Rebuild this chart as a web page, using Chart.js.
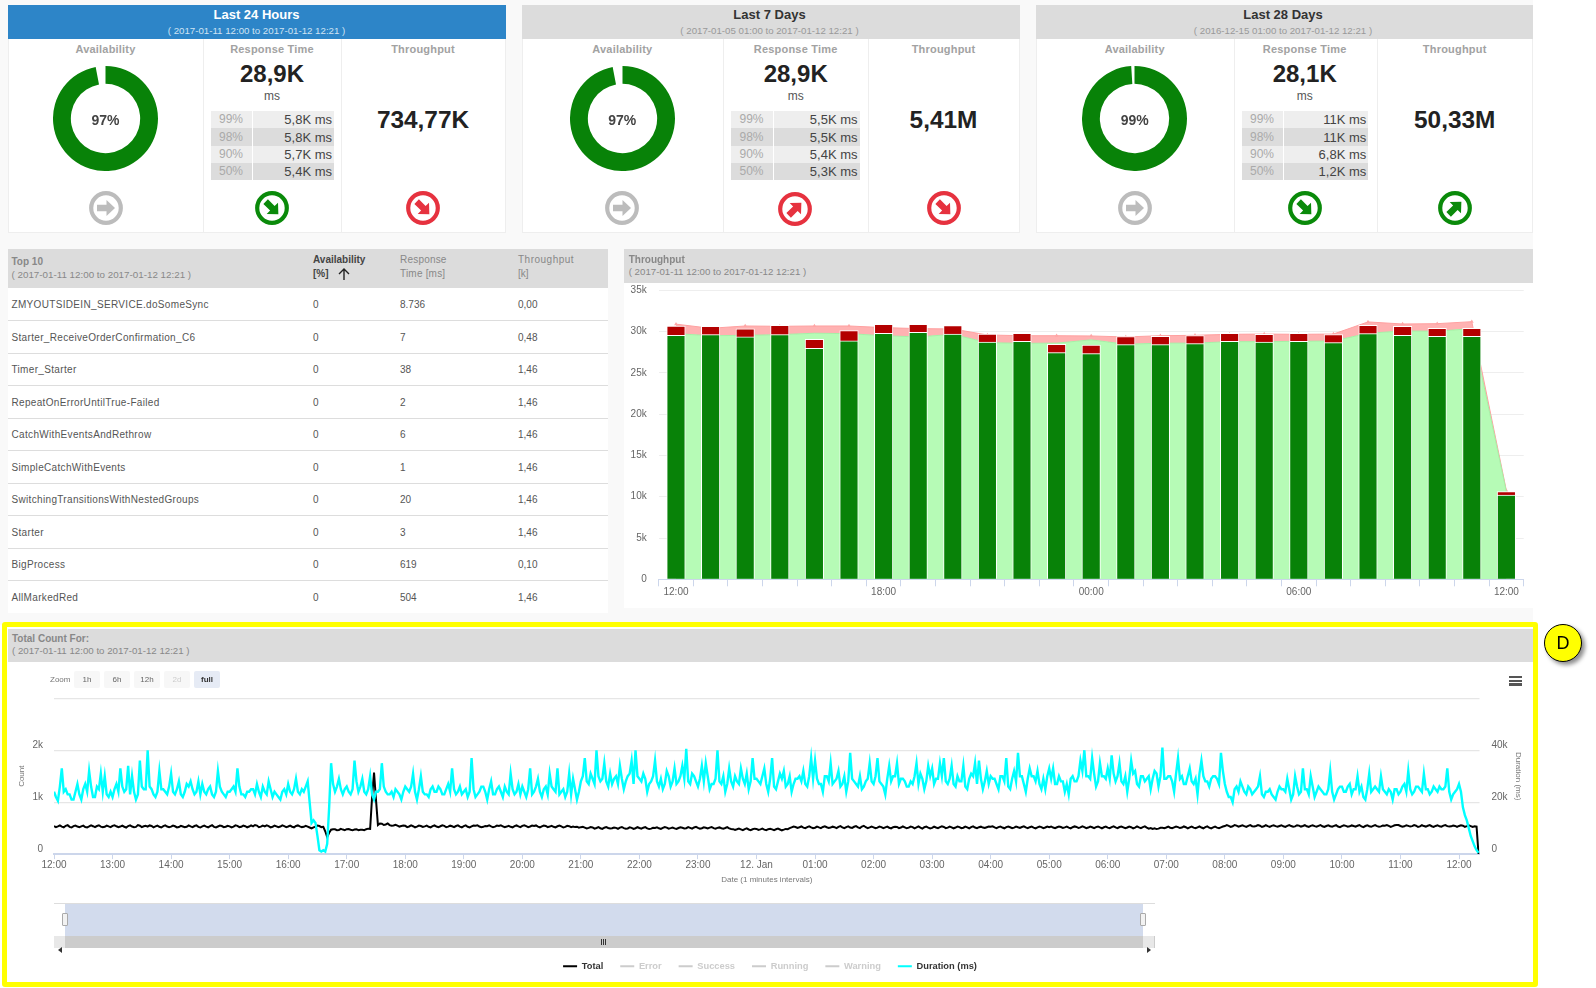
<!DOCTYPE html>
<html><head><meta charset="utf-8">
<script src="https://cdn.jsdelivr.net/npm/chart.js@4"></script>
<style>
html,body{margin:0;padding:0;background:#fff;overflow:hidden}
body{width:1596px;height:988px;position:relative;font-family:"Liberation Sans",Arial,sans-serif}
.b,.t,canvas{position:absolute}
.t{white-space:nowrap;line-height:1}
.ctr{transform:translate(-50%,-50%)}
.lft{transform:translate(0,-50%)}
.rgt{transform:translate(-100%,-50%)}
</style></head><body>
<script>
// ---------- data ----------
const periodTitles=['Last 24 Hours','Last 7 Days','Last 28 Days'];
const periodRanges=['( 2017-01-11 12:00 to 2017-01-12 12:21 )','( 2017-01-05 01:00 to 2017-01-12 12:21 )','( 2016-12-15 01:00 to 2017-01-12 12:21 )'];
const availabilityPct=[97,97,99];
const responseTimes=['28,9K','28,9K','28,1K'];
const throughputs=['734,77K','5,41M','50,33M'];
const percentileNames=['99%','98%','90%','50%'];
const percentileValues=[['5,8K ms','5,8K ms','5,7K ms','5,4K ms'],['5,5K ms','5,5K ms','5,4K ms','5,3K ms'],['11K ms','11K ms','6,8K ms','1,2K ms']];
const trendIcons=[['flat','goodDown','badDown'],['flat','badUp','badDown'],['flat','goodDown','goodUp']];

const topNames=['ZMYOUTSIDEIN_SERVICE.doSomeSync','Starter_ReceiveOrderConfirmation_C6','Timer_Starter','RepeatOnErrorUntilTrue-Failed','CatchWithEventsAndRethrow','SimpleCatchWithEvents','SwitchingTransitionsWithNestedGroups','Starter','BigProcess','AllMarkedRed'];
const topAvailability=['0','0','0','0','0','0','0','0','0','0'];
const topResponse=['8.736','7','38','2','6','1','20','3','619','504'];
const topThroughput=['0,00','0,48','1,46','1,46','1,46','1,46','1,46','1,46','0,10','1,46'];

const hourCategories=['12:00','13:00','14:00','15:00','16:00','17:00','18:00','19:00','20:00','21:00','22:00','23:00','00:00','01:00','02:00','03:00','04:00','05:00','06:00','07:00','08:00','09:00','10:00','11:00','12:00'];
const shownHourIndexes=[0,6,12,18,24];
const barSuccess=[29550,29630,29350,29630,27980,28870,29790,29910,29710,28740,28820,27450,27330,28420,28420,28540,28820,28740,28820,28660,29750,29550,29430,29430,10210];
const barError=[1130,1010,970,1130,1090,1250,1090,970,1010,970,970,1010,1050,970,1010,970,970,930,970,970,1010,1090,970,970,410];
const areaSuccess=[29750,29500,29550,29630,29800,29750,29500,29350,29670,28660,28580,28600,29000,28460,28600,28600,28780,28780,28820,28860,29790,30080,30040,30360,10600];
const areaError=[1150,900,1130,1010,880,930,980,1010,650,930,920,900,470,890,900,950,890,920,850,840,1380,840,920,840,140];

const timeTickLabels=['12:00','13:00','14:00','15:00','16:00','17:00','18:00','19:00','20:00','21:00','22:00','23:00','12. Jan','01:00','02:00','03:00','04:00','05:00','06:00','07:00','08:00','09:00','10:00','11:00','12:00'];
const sampleMinutes=2;
const legendNames=['Total','Error','Success','Running','Warning','Duration (ms)'];
// readings on even sample slots
const durationK=[
24,20.5,33,25,23,21,27,21,27,32,22,26,31,30,22,
22,27,33,24,34,30,21,36,25,40,25,22,32,25,23,
31,23,28,22,27,28,23,28,27,23,26,22,32,24,22,
24,26,33,23,22,24,25,27,22,24,28,22,23,21,25,
27,23,29,23,24,28,12,12,1.5,1.5,4,35,24,29,23,
26,23,36,24,29,23,30,21,24,35,24,23,22,24,21,
26,24,31,21,30,23,22,26,24,25,23,27,33,23,26,
24,22,37,22,24,26,21,28,23,26,22,24,31,23,27,
26,22,33,24,29,22,26,31,25,33,24,22,31,29,21,
28,37,27,29,40,28,35,26,27,30,34,25,30,36,40,
29,31,24,28,36,26,25,32,26,33,28,34,40.5,27,30,
26,34,35,25,27,40,27,24,33,26,28,33,27,25,37,
29,27,33,24,37,25,31,32,27,24,29,30,32,26,37,
36,27,24,30,35,28,32,27,24,39,28,26,25,28,35,
27,37,27,23,34,30,35,29,28,26,27,35,31,25,34,
33,29,35,37,27,34,26,28,34,25,31,35,36,25,32,
30,29,25,30,37,25,32,39,30,24,33,30,32,25,25,
33,33,27,28,24,23,30,28,36,40,30,37,26,35,30,
33,38,28,35,27,24,36,32,26,30,29,25,32,26,41,
29,30,24,37,30,27,33,27,23,36,28,26,30,29,39,
27,22,20,26,28,24,26,23,25,30,22,24,23,21,26,
25,29,21,30,23,33,25,30,22,26,24,23,32,21,25,
26,24,27,25,30,26,21,31,25,25,30,24,25,21,25,
24,27,32,23,26,25,31,25,24,25,26,25,33,21,24,
27,18,13,7,3,0.5];
// readings on the slots between them
const durationKBetween=[
22,26,24,23,21,24,23,25,24,26,22,25,24,23,24,
25,24,26,25,23,24,23,26,25,26,23,24,25,24,26,
24,25,23,24,26,25,24,23,24,25,23,24,26,23,24,
25,24,26,23,24,25,23,24,26,23,25,24,22,24,23,
24,25,24,25,26,20,13,7,1,1,18,27,26,25,25,
24,25,28,26,24,25,23,24,25,26,23,24,25,23,24,
25,26,24,25,24,23,25,24,26,23,25,24,25,24,23,
25,24,25,23,26,24,25,23,25,24,26,23,25,24,23,
24,25,23,26,24,25,23,26,24,23,25,24,23,25,24,
30,28,31,27,30,29,28,31,29,27,29,28,31,27,30,
28,29,27,30,28,29,27,30,28,27,30,29,28,31,28,
29,28,30,27,29,28,30,27,28,30,27,29,31,28,29,
28,30,27,29,26,28,29,26,30,27,29,28,27,30,29,
29,27,30,28,27,29,26,30,28,29,27,30,26,29,28,
30,28,26,29,28,30,27,29,26,28,30,27,29,28,30,
27,29,30,28,29,27,30,28,26,29,30,27,29,28,27,
29,27,30,28,26,29,28,30,27,29,30,28,27,29,30,
29,27,30,28,27,29,28,30,32,30,29,31,28,30,29,
29,31,30,28,30,29,31,27,30,28,30,29,31,30,29,
30,28,31,29,27,30,28,29,31,30,28,29,30,27,32,
24,22,25,24,26,23,25,24,26,23,24,25,22,24,25,
24,25,23,26,24,25,23,26,24,25,23,25,24,23,26,
24,26,23,25,24,22,25,24,26,24,25,23,24,25,23,
26,24,25,24,26,24,25,23,26,24,25,26,24,23,25,
24,15,10,5,1.5];
const totalCount=[
540,535,528,545,525,538,530,535,522,532,537,541,530,526,533,
544,536,530,527,540,531,524,546,535,529,541,533,526,538,530,
528,536,522,531,527,535,541,525,533,529,538,524,532,540,527,
534,529,543,526,537,531,535,550,528,533,540,526,535,530,538,
532,527,541,535,526,530,495,530,540,525,330,470,478,465,472,
480,468,474,462,470,480,485,1570,560,585,570,558,552,548,540,
545,532,537,528,541,534,526,539,531,536,544,528,535,541,530,
538,527,534,546,530,525,537,533,528,541,535,530,526,539,533,
543,537,531,540,528,534,541,530,526,536,532,524,538,530,528,
519,510,505,512,502,498,508,503,497,505,510,500,494,505,498,
503,508,496,490,502,497,505,510,500,495,503,508,499,505,512,
504,498,507,510,500,505,498,502,495,480,478,476,482,474,479,
485,477,472,480,476,478,474,471,480,515,522,518,510,520,515,
508,514,522,517,510,518,524,516,520,512,526,515,530,518,514,
516,510,520,515,508,517,522,512,516,509,520,514,511,518,510,
505,512,518,522,510,516,512,520,508,515,520,512,518,511,517,
525,515,519,512,520,516,509,517,522,514,518,511,516,520,513,
519,512,517,521,514,510,518,523,515,519,511,516,520,513,517,
510,519,514,521,516,512,518,511,515,520,509,503,496,490,505,
512,508,515,520,511,517,513,509,516,512,518,508,514,510,515,
540,544,536,548,542,538,545,537,541,546,535,540,544,538,542,
536,545,540,534,548,541,536,543,538,545,535,541,537,544,530,
538,543,535,540,546,532,541,537,545,539,534,548,542,538,560,
541,536,544,538,547,533,540,545,537,542,536,548,539,535,543,
542,546,538,540,536,0];
const totalCountBetween=[
520,552,515,556,512,550,518,548,514,553,520,555,516,549,520,
556,518,548,512,554,517,558,520,545,552,516,550,513,552,518,
550,514,545,517,552,520,553,512,548,516,555,515,550,518,546,
515,553,520,550,516,552,560,517,548,553,515,550,518,553,520,
548,516,552,520,545,512,515,548,520,440,410,480,460,485,462,
482,458,480,470,462,490,1100,1050,590,560,590,545,565,530,550,
520,553,516,550,522,548,515,552,520,555,518,547,520,554,516,
552,515,550,556,518,542,552,516,548,553,518,545,516,552,520,
554,520,548,552,516,550,518,545,515,550,512,545,518,520,510,
525,495,522,490,518,485,520,492,512,488,522,490,515,485,518,
490,520,482,505,515,485,522,490,512,485,518,495,520,490,525,
488,515,495,522,488,514,490,518,485,465,492,460,495,462,490,
465,490,460,488,462,490,458,485,500,530,505,532,500,535,498,
530,500,535,505,528,500,538,498,535,505,540,500,545,500,530,
498,532,500,530,495,528,500,532,497,530,495,535,492,530,495,
530,498,535,500,530,495,532,500,530,497,535,500,528,502,530,
535,500,532,497,530,500,530,505,535,498,530,497,532,500,530,
532,498,530,505,530,495,533,502,535,498,530,500,532,497,530,
498,535,500,532,498,530,497,533,500,535,490,485,482,505,498,
528,498,530,502,532,495,530,498,532,497,535,495,528,500,530,
558,525,560,528,555,524,558,530,560,522,556,525,555,528,556,
525,560,526,556,530,558,523,556,528,560,522,555,528,556,518,
555,528,552,530,560,520,556,526,560,528,552,560,525,555,560,
528,556,530,558,522,556,530,558,525,556,528,560,530,550,525,
555,525,553,522,530];

// ---------- helpers ----------
const F='"Liberation Sans",Arial,sans-serif';
function box(x,y,w,h,css){const d=document.createElement('div');d.className='b';d.style.cssText=`left:${x}px;top:${y}px;width:${w}px;height:${h}px;`+(css||'');document.body.appendChild(d);return d;}
function text(x,y,s,css,cls){const d=document.createElement('div');d.className='t '+(cls||'ctr');d.style.cssText=`left:${x}px;top:${y}px;`+(css||'');d.textContent=s;document.body.appendChild(d);return d;}
function canvas(x,y,w,h){const c=document.createElement('canvas');c.width=w;c.height=h;c.style.cssText=`left:${x}px;top:${y}px;width:${w}px;height:${h}px`;document.body.appendChild(c);return c.getContext('2d');}
function icon(cx,cy,kind){
  const col={flat:'#bcbcbc',goodDown:'#0a8a0a',goodUp:'#0a8a0a',badDown:'#e6323f',badUp:'#e6323f'}[kind];
  const rot={flat:0,goodDown:45,badDown:45,goodUp:-45,badUp:-45}[kind];
  const d=document.createElement('div');d.className='b';d.style.cssText=`left:${cx-18}px;top:${cy-18}px;width:36px;height:36px`;
  d.innerHTML=`<svg width="36" height="36" viewBox="-18 -18 36 36"><circle r="14.8" fill="#fff" stroke="${col}" stroke-width="4.2"/><path transform="rotate(${rot})" d="M-9,-3.2H0.5V-8L9,0L0.5,8V3.2H-9Z" fill="${col}"/></svg>`;
  document.body.appendChild(d);
}
function zipSlots(a,b){const out=[];a.forEach((v,i)=>{out.push({x:out.length*sampleMinutes,y:v});if(i<b.length)out.push({x:out.length*sampleMinutes,y:b[i]});});return out;}
Chart.defaults.font.family=F;
Chart.defaults.animation=false;
Chart.defaults.responsive=false;
Chart.defaults.devicePixelRatio=1;
Chart.defaults.plugins.tooltip.enabled=false;

// ---------- page backdrop ----------
box(0,0,1533,625,'background:#f9f9f9');

// ---------- KPI panels ----------
const panelBoxes=[
 {l:8,r:505.5,d1:203,d2:341,a:105.5,m:272,t:423,tl:211,tm:253,tr:334,c:256.5,ic:[[105.5,207.5],[272,207.5],[423,207.5]]},
 {l:522.3,r:1020,d1:723.3,d2:868.3,a:622.3,m:795.7,t:943.5,tl:731,tm:774,tr:859.5,c:769.5,ic:[[622.3,207.5],[795.3,209],[943.5,207.5]]},
 {l:1035.7,r:1533,d1:1233.7,d2:1376.7,a:1134.7,m:1304.7,t:1454.7,tl:1242,tm:1284,tr:1368.3,c:1283,ic:[[1134.7,207.5],[1304.7,207.5],[1454.7,207.5]]}];
panelBoxes.forEach((p,i)=>{
  box(p.l,39,p.r-p.l,194,'background:#fff;box-sizing:border-box;border:1px solid #eee;border-top:none');
  box(p.d1,39,1,194,'background:#eee');box(p.d2,39,1,194,'background:#eee');
  const active=i===0;
  box(p.l,4.5,p.r-p.l,34.5,'background:'+(active?'#2d85c8':'#dcdcdc'));
  text(p.c,14,periodTitles[i],`font-size:13px;font-weight:bold;color:${active?'#fff':'#333'}`);
  text(p.c,30.5,periodRanges[i],`font-size:9.7px;color:${active?'#cfe3f3':'#999'}`);
  ['Availability','Response Time','Throughput'].forEach((s,j)=>text([p.a,p.m,p.t][j],49,s,'font-size:11px;font-weight:bold;color:#a2a2a2;letter-spacing:.2px'));
  text(p.m,74,responseTimes[i],'font-size:24px;font-weight:bold;color:#222');
  text(p.m,96,'ms','font-size:12px;color:#555');
  text(p.t,120,throughputs[i],'font-size:24.4px;font-weight:bold;color:#222');
  percentileNames.forEach((n,r)=>{
    const y=111+r*17.33,dark=r%2===1;
    box(p.tl,y,p.tm-p.tl-1,17.33,'background:'+(dark?'#dcdcdc':'#eeeeee'));
    box(p.tm,y,p.tr-p.tm,17.33,'background:'+(dark?'#dcdcdc':'#eeeeee'));
    text((p.tl+p.tm)/2-1,y+8.2,n,'font-size:12px;color:#aaa');
    text(p.tr-2,y+8.2,percentileValues[i][r],'font-size:13px;color:#444','rgt');
  });
  const ctx=canvas(p.a-52.5,65.5,105,105);
  new Chart(ctx,{type:'doughnut',data:{datasets:[{data:[availabilityPct[i],100-availabilityPct[i]],backgroundColor:['#088208','rgba(0,0,0,0)'],borderWidth:0}]},
    options:{cutout:'66%',plugins:{legend:{display:false}},events:[]}});
  text(p.a,120,availabilityPct[i]+'%','font-size:14px;color:#444;font-weight:bold');
  trendIcons[i].forEach((k,j)=>icon(p.ic[j][0],p.ic[j][1],k));
});

// ---------- Top 10 table ----------
box(8,288,600,325,'background:#fff');
box(8,249,600,39,'background:#dcdcdc');
text(11.5,261.5,'Top 10','font-size:10px;font-weight:bold;color:#888','lft');
text(11.5,275,periodRanges[0],'font-size:9.8px;color:#888','lft');
text(313,259.5,'Availability','font-size:10px;font-weight:bold;color:#444','lft');
text(313,273.5,'[%]','font-size:10px;font-weight:bold;color:#444','lft');
const ar=box(337,267,14,14,'');ar.innerHTML='<svg width="14" height="14" viewBox="0 0 14 14"><path d="M7,13V2M2,7L7,2L12,7" fill="none" stroke="#222" stroke-width="1.4"/></svg>';
text(400,259.5,'Response','font-size:10px;color:#888;letter-spacing:.2px','lft');
text(400,273.5,'Time [ms]','font-size:10px;color:#888;letter-spacing:.2px','lft');
text(518,259.5,'Throughput','font-size:10px;color:#888;letter-spacing:.5px','lft');
text(518,273.5,'[k]','font-size:10px;color:#888','lft');
topNames.forEach((n,i)=>{
  const y=305+i*32.5;
  text(11.5,y,n,'font-size:10px;color:#555;letter-spacing:.33px','lft');
  text(313,y,topAvailability[i],'font-size:10px;color:#555','lft');
  text(400,y,topResponse[i],'font-size:10px;color:#555','lft');
  text(518,y,topThroughput[i],'font-size:10px;color:#555','lft');
  if(i<9)box(8,320+i*32.5,600,1.3,'background:#ddd');
});

// ---------- Throughput chart ----------
box(624,283,909,325,'background:#fff');
box(624,249,909,33.5,'background:#dcdcdc');
text(628.7,259.5,'Throughput','font-size:10px;font-weight:bold;color:#888','lft');
text(628.7,271.5,periodRanges[0],'font-size:9.7px;color:#888','lft');
new Chart(canvas(624,283,907,325),{
  data:{labels:hourCategories,datasets:[
    {type:'line',label:'Success area',data:areaSuccess,stack:'area',fill:'origin',backgroundColor:'#b6fbb6',borderColor:'#a6f0a6',borderWidth:1,pointRadius:0,order:2},
    {type:'line',label:'Error area',data:areaError,stack:'area',fill:'-1',backgroundColor:'#ffb2b2',borderColor:'#ffa0a0',borderWidth:1,pointStyle:'triangle',pointRadius:2.2,pointBackgroundColor:'#ffa6a6',pointBorderWidth:0,order:3},
    {type:'bar',label:'Success',data:barSuccess,stack:'bars',backgroundColor:'#088208',borderColor:'#fff',borderWidth:1,barThickness:18.5,order:0},
    {type:'bar',label:'Error',data:barError,stack:'bars',backgroundColor:'#b30000',borderColor:'#fff',borderWidth:1,barThickness:18.5,order:1}
  ]},
  options:{events:[],layout:{autoPadding:false,padding:{top:7.3,right:7.3,left:0,bottom:0}},plugins:{legend:{display:false}},
    scales:{
      x:{stacked:true,offset:true,afterFit:s=>{s.height=28.7},
        grid:{offset:true,drawOnChartArea:false,color:'#ccd6eb',tickLength:7},border:{color:'#ccd6eb',width:1},
        ticks:{autoSkip:false,maxRotation:0,padding:0,color:'#666',font:{size:10},callback:(v,i)=>shownHourIndexes.includes(i)?hourCategories[i]:''}},
      y:{stacked:true,min:0,max:35000,afterFit:s=>{s.width=34.7},
        grid:{color:'#eeeeee',drawTicks:true,tickLength:12,tickColor:'rgba(0,0,0,0)'},border:{display:false},
        ticks:{stepSize:5000,padding:0,color:'#666',font:{size:10},callback:v=>v===0?'0':(v/1000)+'k'}}
    }}
});

// ---------- Total count panel ----------
box(2,622,1536,365.3,'box-sizing:border-box;border:5.5px solid #ffff00;border-radius:3px;background:#fff');
box(8,629,1525,33,'background:#dcdcdc');
text(12,639,'Total Count For:','font-size:10px;font-weight:bold;color:#888','lft');
text(12,651,periodRanges[0],'font-size:9.7px;color:#888','lft');
new Chart(canvas(8,662,1524,319),{
  type:'line',
  data:{datasets:[
    {label:legendNames[0],data:zipSlots(totalCount,totalCountBetween),borderColor:'#000',borderWidth:2,pointRadius:0,tension:0,yAxisID:'y',order:2},
    {label:legendNames[1],data:[],yAxisID:'y',hidden:true},
    {label:legendNames[2],data:[],yAxisID:'y',hidden:true},
    {label:legendNames[3],data:[],yAxisID:'y',hidden:true},
    {label:legendNames[4],data:[],yAxisID:'y',hidden:true},
    {label:legendNames[5],data:zipSlots(durationK,durationKBetween).map(p=>({x:p.x,y:p.y*1000})),borderColor:'#00ffff',borderWidth:2.4,pointRadius:0,tension:0,yAxisID:'y1',order:1}
  ]},
  options:{events:[],layout:{autoPadding:false,padding:{top:36.3,left:0,right:0,bottom:0}},
    plugins:{legend:{position:'bottom',labels:{usePointStyle:true,pointStyleWidth:14,padding:17,font:{size:9.3,weight:'bold'},
      generateLabels:ch=>ch.data.datasets.map((d,i)=>{const on=d.data.length>0;return{text:d.label,datasetIndex:i,hidden:false,fontColor:on?'#333':'#ccc',strokeStyle:on?d.borderColor:'#ccc',fillStyle:'rgba(0,0,0,0)',lineWidth:2,pointStyle:'line'};})}}},
    scales:{
      x:{type:'linear',min:0,max:1461,afterFit:s=>{s.height=90.6},
        grid:{drawOnChartArea:false,color:'#ccd6eb',tickLength:5},border:{color:'#ccd6eb',width:2},
        title:{display:true,text:'Date (1 minutes intervals)',color:'#777',font:{size:8},padding:{top:0,bottom:59.8}},
        ticks:{stepSize:60,includeBounds:false,autoSkip:false,maxRotation:0,padding:0,color:'#666',font:{size:10},callback:v=>timeTickLabels[v/60]}},
      y:{position:'left',min:0,max:3000,afterFit:s=>{s.width=46},
        grid:{color:'#e6e6e6',lineWidth:1.3,drawTicks:false},border:{display:false},
        title:{display:true,text:'Count',color:'#777',font:{size:8},padding:{top:9,bottom:0}},
        ticks:{stepSize:1000,padding:11,labelOffset:-5,color:'#666',font:{size:10},callback:v=>v===0?'0':v===3000?'':(v/1000)+'k'}},
      y1:{position:'right',min:0,max:60000,afterFit:s=>{s.width=52.5},
        grid:{display:false,drawTicks:false},border:{display:false},
        title:{display:true,text:'Duration (ms)',color:'#777',font:{size:8},padding:{top:9,bottom:0}},
        ticks:{stepSize:20000,padding:12,labelOffset:-5,color:'#666',font:{size:10},callback:v=>v===0?'0':v===60000?'':(v/1000)+'k'}}
    }}
});

// zoom buttons
text(50,680,'Zoom','font-size:8px;color:#777','lft');
const zoomLabels=['1h','6h','12h','2d','full'];
zoomLabels.forEach((z,i)=>{
  const x=74+i*30;
  box(x,671,26,17,'border-radius:2px;background:'+(i===4?'#e6ebf5':'#f7f7f7'));
  text(x+13,679.5,z,'font-size:8px;'+(i===4?'font-weight:bold;color:#333':i===3?'color:#ccc':'color:#666'));
});
// context menu icon
[0,3.8,7.6].forEach(d=>box(1508.5,675.7+d,13,2.4,'background:#555'));

// navigator
box(54,903,1100.5,32.7,'background:#fff;border-top:1px solid #ddd;box-sizing:border-box');
box(65,903.5,1077.6,32.2,'background:#d2dbed');
box(54,935.7,1100.5,12,'background:#ccc');
box(54,935.7,11,12,'background:#e8e8e8');
box(1142.6,935.7,11.9,12,'background:#e8e8e8');
const triL=box(57.5,939,4,6,'');triL.innerHTML='<svg width="4" height="6"><path d="M4,0V6L0,3Z" fill="#333"/></svg>';
const triR=box(1147,939,4,6,'');triR.innerHTML='<svg width="4" height="6"><path d="M0,0V6L4,3Z" fill="#333"/></svg>';
[0,2,4].forEach(d=>box(601+d,939,1,6,'background:#333'));
[65,1142.6].forEach(x=>box(x-3,912.5,6,13,'background:#f2f2f2;border:1px solid #aaa;border-radius:1px;box-sizing:border-box'));

// callout badge
box(1544,623.5,38,38,'box-sizing:border-box;border:1.5px solid #000;border-radius:50%;background:#ffff00;box-shadow:3px 3px 4px rgba(0,0,0,.45)');
text(1563,642.5,'D','font-size:18px;color:#000');
</script>
</body></html>
